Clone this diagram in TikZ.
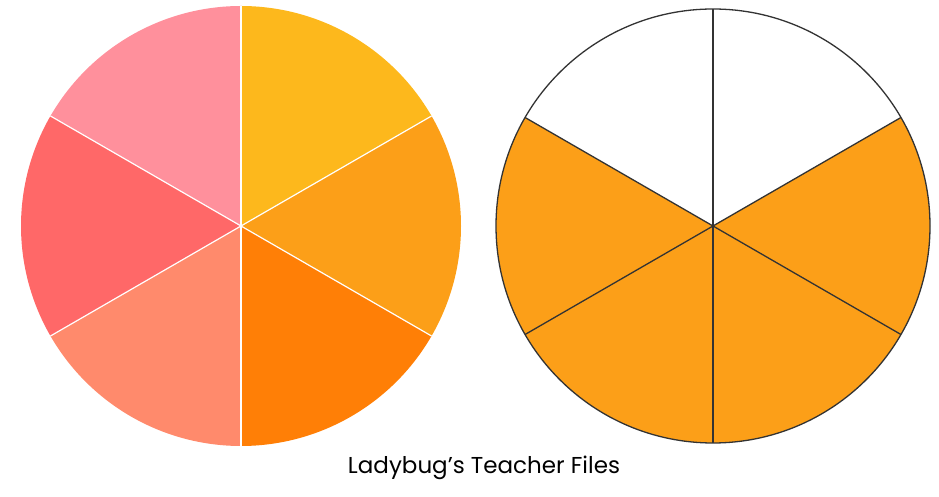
\documentclass[tikz,border=0pt]{standalone}
\usepackage{fontspec}
\setmainfont{Poppins}
\usetikzlibrary{positioning}
\definecolor{sliceyellow}{HTML}{FDB81C}
\definecolor{sliceorange}{HTML}{FC9F18}
\definecolor{slicedeep}{HTML}{FF7F06}
\definecolor{slicesalmon}{HTML}{FF8A6C}
\definecolor{slicered}{HTML}{FF6868}
\definecolor{slicepink}{HTML}{FF909C}

\begin{document}
\begin{tikzpicture}[x=1pt,y=1pt]
\useasboundingbox (0,0) rectangle (939,497);

% --- Left circle: six slices in different colours ---
\begin{scope}
  \coordinate (lc) at (241,271);
  \foreach \a/\b/\c in {
    30/90/sliceyellow, -30/30/sliceorange, -90/-30/slicedeep,
    -150/-90/slicesalmon, 150/210/slicered, 90/150/slicepink}
    \fill[\c] (lc) -- ++(\a:220) arc[start angle=\a,end angle=\b,radius=220] -- cycle;
  \foreach \a in {30,90,...,330}
    \draw[white,line width=1.2pt] (lc) -- ++(\a:220);
\end{scope}

% --- Right circle: four of six slices shaded ---
\begin{scope}
  \coordinate (rc) at (713,271);
  \foreach \a/\b/\c in {
    30/90/white, 90/150/white, -30/30/sliceorange, -90/-30/sliceorange,
    -150/-90/sliceorange, 150/210/sliceorange}
    \fill[\c] (rc) -- ++(\a:217) arc[start angle=\a,end angle=\b,radius=217] -- cycle;
  \foreach \a in {30,90,...,330}
    \draw[black!80,line width=1.3pt] (rc) -- ++(\a:217);
  \draw[black!80,line width=1.3pt] (rc) circle[radius=217];
\end{scope}

\node[font=\fontsize{23}{26}\selectfont] (credit) at (484,29) {Ladybug’s Teacher Files};

\end{tikzpicture}
\end{document}
